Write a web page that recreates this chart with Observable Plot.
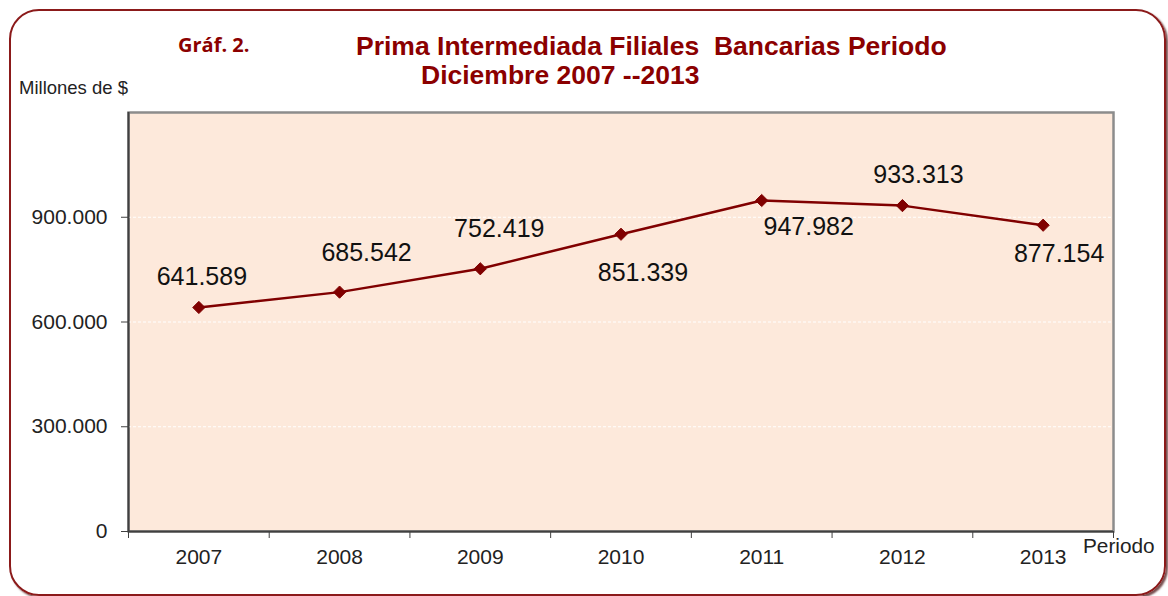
<!DOCTYPE html>
<html>
<head>
<meta charset="utf-8">
<script src="https://cdn.jsdelivr.net/npm/d3@7"></script>
<script src="https://cdn.jsdelivr.net/npm/@observablehq/plot@0.6"></script>
<style>
  html, body { margin: 0; padding: 0; background: #fff; }
  #wrap { position: relative; width: 1168px; height: 596px; overflow: hidden; font-family: "Liberation Sans", Arial, sans-serif; }
  #box { position: absolute; left: 9px; top: 9px; width: 1157px; height: 587px; border: 2px solid #8B1A1A; border-radius: 30px; box-shadow: 2px 2px 2px rgba(60,0,0,0.7); box-sizing: border-box; }
  #chart { position: absolute; left: 0; top: 0; }
  .t { position: absolute; white-space: pre; line-height: normal; }
  #graf { left: 178px; top: 31px; font-family: "Open Sans", "Noto Sans", sans-serif; font-weight: bold; font-size: 20px; color: #8B0000; }
  #title1 { left: 356px; top: 31px; font-weight: bold; font-size: 26.5px; color: #8B0000; }
  #title2 { left: 421px; top: 60px; font-weight: bold; font-size: 26.5px; color: #8B0000; }
  #ylab { left: 19px; top: 77px; font-size: 18.5px; color: #222; }
  #xlab { left: 1083px; top: 534px; font-size: 20.8px; color: #222; }
</style>
</head>
<body>
<div id="wrap">
  <div id="box"></div>
  <div id="chart"></div>
  <div class="t" id="graf">Gráf. 2.</div>
  <div class="t" id="title1">Prima Intermediada Filiales  Bancarias Periodo</div>
  <div class="t" id="title2">Diciembre 2007 --2013</div>
  <div class="t" id="ylab">Millones de $</div>
  <div class="t" id="xlab">Periodo</div>
</div>
<script>
// Data
const years = [2007, 2008, 2009, 2010, 2011, 2012, 2013];
const values = [641589, 685542, 752419, 851339, 947982, 933313, 877154];
const yTicks = [0, 300000, 600000, 900000];

// Label placement (layout only)
const labelDx = [3, 27, 19, 22, 47, 16, 16];
const labelDy = [-30, -39, -40, 39, 27, -31, 29];

const data = years.map((year, i) => ({year, value: values[i]}));
const fmt = d => d3.format(",")(d).replace(/,/g, ".");
const bounds = years.map(y => y - 0.5).concat([years[years.length - 1] + 0.5]);
const dark = "#800000";

const labelMarks = data.map((d, i) => Plot.text([d], {
  x: "year", y: "value", text: d => fmt(d.value),
  dx: labelDx[i], dy: labelDy[i], fontSize: 25, fill: "#111",
  fontFamily: "Liberation Sans, Arial, sans-serif"
}));

const chart = Plot.plot({
  width: 1168,
  height: 596,
  marginLeft: 128,
  marginRight: 55,
  marginTop: 112,
  marginBottom: 65,
  style: { background: "transparent", fontFamily: "Liberation Sans, Arial, sans-serif", color: "#222" },
  x: { domain: [bounds[0], bounds[bounds.length - 1]] },
  y: { domain: [0, 1200000] },
  marks: [
    Plot.frame({ fill: "#FDE9DB", stroke: "#8c8c8c", strokeWidth: 2.5 }),
    Plot.gridY([300000, 600000, 900000], { stroke: "#ffffff", strokeOpacity: 1, strokeDasharray: "3,2", strokeWidth: 1 }),
    Plot.ruleX([bounds[0]], { stroke: "#404040", strokeWidth: 2 }),
    Plot.ruleY([0], { stroke: "#404040", strokeWidth: 2 }),
    Plot.axisY({ ticks: yTicks, tickFormat: fmt, tickSize: 7, tickPadding: 14, fontSize: 21, stroke: "#404040", fill: "#222", label: null }),
    Plot.axisX({ ticks: bounds, tickFormat: () => "", tickSize: 7, stroke: "#404040", label: null }),
    Plot.axisX({ ticks: years, tickFormat: d => String(d), tickSize: 0, tickPadding: 18, fontSize: 21, fill: "#222", label: null }),
    Plot.line(data, { x: "year", y: "value", stroke: dark, strokeWidth: 2.5 }),
    Plot.dot(data, { x: "year", y: "value", symbol: "diamond2", r: 5.5, fill: dark, stroke: dark, strokeWidth: 1 }),
    ...labelMarks
  ]
});
document.getElementById("chart").appendChild(chart);
</script>
</body>
</html>
